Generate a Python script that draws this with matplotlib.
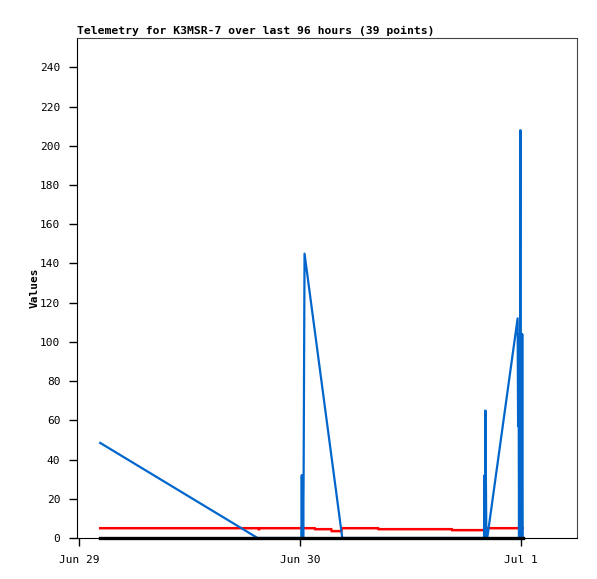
import matplotlib
matplotlib.use("Agg")
from matplotlib import pyplot as plt

# hours since Jun 29 00:00
blue_t = [2.3, 19.4, 24.15, 24.2, 24.25, 24.3, 24.35, 24.4, 24.5, 28.6,
          44.0, 44.05, 44.1, 44.15, 44.2, 44.25, 44.35, 47.65, 47.7, 47.75,
          47.8, 47.85, 47.9, 47.95, 48.0, 48.05, 48.1, 48.15, 48.2]
blue_v = [48.5, 0, 0, 32, 0, 32, 0, 32, 145, 0,
          0, 32, 0, 65, 32, 0, 0, 112, 57, 104,
          0, 104, 57, 208, 0, 104, 0, 104, 0]

red_t = [2.3, 19.5, 19.55, 19.6, 25.6, 25.65, 27.4, 27.45, 28.5, 28.55,
         32.5, 32.55, 40.5, 40.55, 44.2, 44.25, 48.2]
red_v = [5, 5, 4, 5, 5, 4.5, 4.5, 3.5, 3.5, 5,
         5, 4.5, 4.5, 4, 4, 5, 5]

black_t = [2.3, 48.2]
black_v = [0, 0]

tick_pos = [0, 24, 48]
tick_labels = ["Jun 29", "Jun 30", "Jul 1"]
y_ticks = list(range(0, 241, 20))

plt.rcParams["font.family"] = "DejaVu Sans Mono"
plt.rcParams["font.size"] = 8

fig = plt.figure(figsize=(5.97, 5.79), dpi=100)
ax = fig.add_axes([77 / 597, 41 / 579, 500 / 597, 500 / 579])

ax.plot(red_t, red_v, color="#ff0000", lw=1.8, solid_joinstyle="miter")
ax.plot(blue_t, blue_v, color="#0066cc", lw=1.6)
ax.plot(black_t, black_v, color="black", lw=2.4, clip_on=False, zorder=5)

ax.set_xlim(-0.22, 54.1)
ax.set_ylim(0, 255)
ax.set_xticks(tick_pos)
ax.set_xticklabels(tick_labels)
ax.set_yticks(y_ticks)
ax.tick_params(direction="out", length=6, width=1, colors="black", pad=6)

for s in ["top", "right"]:
    ax.spines[s].set_color("#444444")
for s in ["left", "bottom"]:
    ax.spines[s].set_color("black")

ax.set_ylabel("Values", fontweight="bold", labelpad=0)
ax.set_title("Telemetry for K3MSR-7 over last 96 hours (39 points)",
             loc="left", fontweight="bold", fontsize=8.2, pad=3)

plt.savefig("out.png", dpi=100)
